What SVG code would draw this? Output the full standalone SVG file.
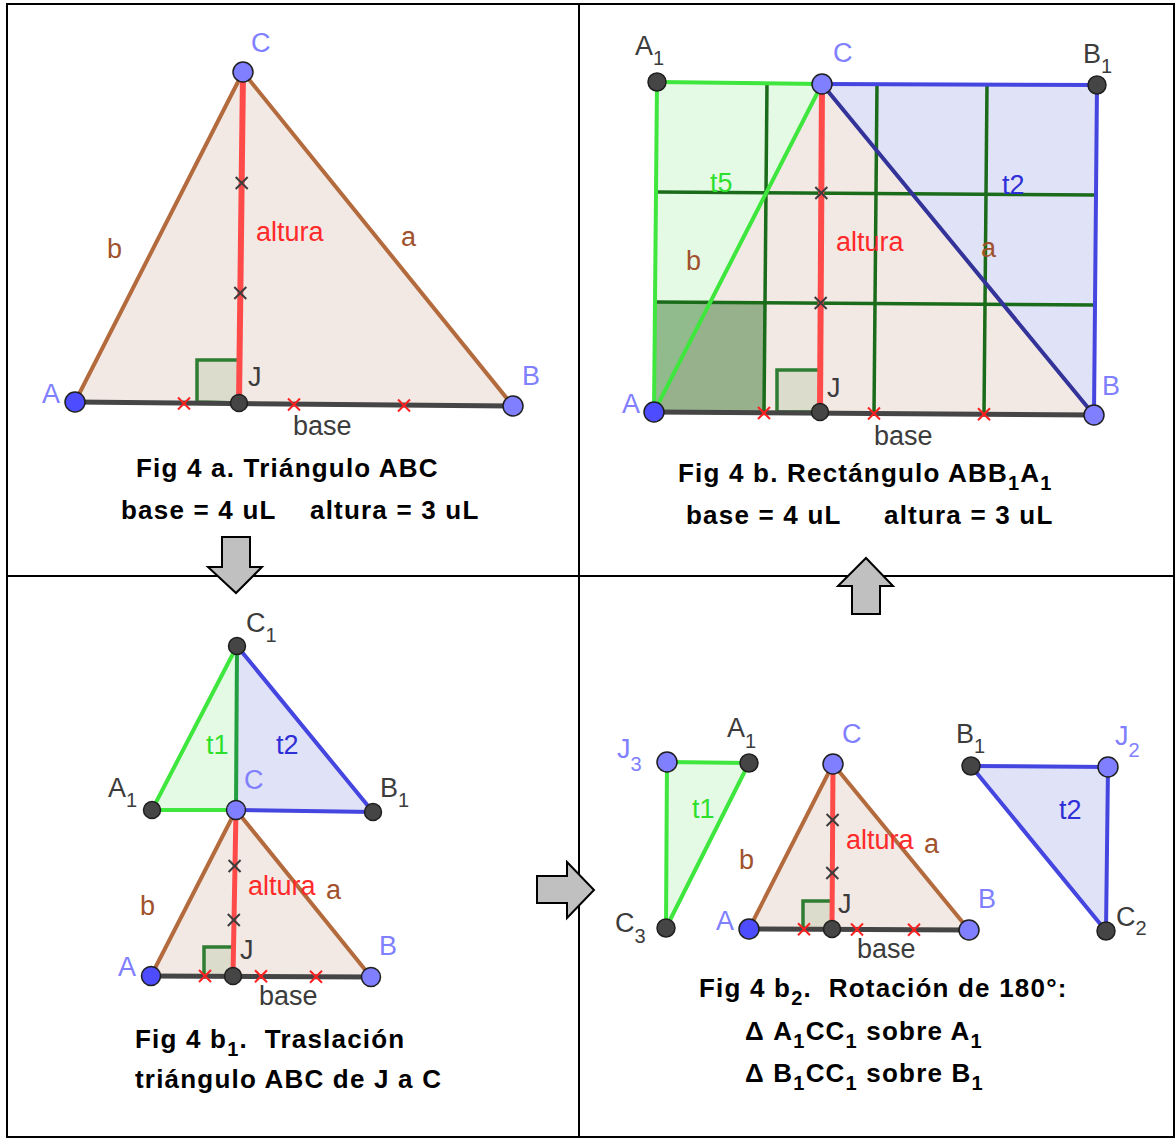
<svg xmlns="http://www.w3.org/2000/svg" xmlns:xlink="http://www.w3.org/1999/xlink" width="1176" height="1139" viewBox="0 0 1176 1139">
<defs>
<style>
.lb{font-family:"Liberation Sans",Arial,sans-serif;font-size:27px}
.sb{font-size:20px}
.cap{font-family:"Liberation Sans",Arial,sans-serif;font-size:26px;font-weight:bold;fill:#000;letter-spacing:1.2px}
.cs{font-size:20px}
.cb{fill:#8080ff}.ck{fill:#3c3c3c}.cbr{fill:#a0522d}.cr{fill:#ff2a2a}.cg{fill:#2ee02e}.cn{fill:#2f2fd8}
.beige{fill:#f2e9e4;stroke:none}
.lgreen{fill:#e5fae5;stroke:none}
.lblue{fill:#e0e2f7;stroke:none}
.brown{stroke:#b36b3e;stroke-width:4;fill:none;stroke-linecap:round}
.grn{stroke:#3ee63e;stroke-width:4;fill:none;stroke-linecap:round}
.dgrn{stroke:#1a6b1a;stroke-width:3.5;fill:none}
.blu{stroke:#4545e0;stroke-width:4;fill:none;stroke-linecap:round}
.navy{stroke:#333399;stroke-width:4;fill:none;stroke-linecap:round}
.base{stroke:#454545;stroke-width:5;fill:none}
.alt{stroke:#ff4a4a;stroke-width:6;fill:none}
.ra{fill:#dcdccc;stroke:#2e7d32;stroke-width:3.5}
.xr{stroke:#ff2020;stroke-width:2;fill:none}
.xk{stroke:#3c3c3c;stroke-width:2;fill:none}
.pA{fill:#4d4dff;stroke:#1f1f1f;stroke-width:1.5}
.pB{fill:#7f7fff;stroke:#1f1f1f;stroke-width:1.5}
.pK{fill:#454545;stroke:#1f1f1f;stroke-width:1.5}
.frame{stroke:#000;stroke-width:2;fill:none}
.arrow{fill:#c0c0c0;stroke:#000;stroke-width:2}
</style>
<path id="xm" d="M-6,-6 L6,6 M-6,6 L6,-6"/>
</defs>

<g id="frame">
<rect class="frame" x="7" y="4" width="1167" height="1133"/>
<line class="frame" x1="579" y1="4" x2="579" y2="1137"/>
<line class="frame" x1="7" y1="576" x2="1174" y2="576"/>
</g>

<g id="connectors">
<polygon class="arrow" points="222,537 250,537 250,567 262,567 236,593 208,567 222,567"/>
<polygon class="arrow" points="852,614 880,614 880,586 893,586 866,558 838,586 852,586"/>
<polygon class="arrow" points="537,876 567,876 567,862 594,890 567,918 567,903 537,903"/>
</g>

<g id="fig4a">
<polygon class="beige" points="75,402 513,406 243,72"/>
<line class="brown" x1="75" y1="402" x2="243" y2="72"/>
<line class="brown" x1="243" y1="72" x2="513" y2="406"/>
<polygon class="ra" points="197,402 197,360 239,360 239,403"/>
<line class="base" x1="75" y1="402" x2="513" y2="406"/>
<line class="alt" x1="243" y1="72" x2="239" y2="403"/>
<use xlink:href="#xm" class="xk" x="241.7" y="183"/>
<use xlink:href="#xm" class="xk" x="240.3" y="293"/>
<use xlink:href="#xm" class="xr" x="184" y="403.5"/>
<use xlink:href="#xm" class="xr" x="294" y="404.5"/>
<use xlink:href="#xm" class="xr" x="404" y="405.5"/>
<circle class="pA" cx="75" cy="402" r="10"/>
<circle class="pB" cx="513" cy="406" r="10"/>
<circle class="pB" cx="243" cy="72" r="10"/>
<circle class="pK" cx="239" cy="403" r="8.5"/>
<text class="lb cb" x="251" y="52">C</text>
<text class="lb cbr" x="107" y="258">b</text>
<text class="lb cr" x="256" y="241">altura</text>
<text class="lb cbr" x="401" y="246">a</text>
<text class="lb cb" x="42" y="403">A</text>
<text class="lb cb" x="522" y="385">B</text>
<text class="lb ck" x="248" y="386">J</text>
<text class="lb ck" x="293" y="435">base</text>
<text class="cap" x="136" y="477">Fig 4 a. Triángulo ABC</text>
<text class="cap" x="121" y="519">base = 4 uL</text>
<text class="cap" x="310" y="519">altura = 3 uL</text>
</g>

<g id="fig4b">
<polygon class="lgreen" points="657,82 822,84 654,412"/>
<polygon class="beige" points="654,412 822,84 1094,415"/>
<polygon class="lblue" points="822,84 1097,85 1094,415"/>
<polygon points="654,412 764,413 765,303 655,302" fill="#3d7a35" fill-opacity="0.5"/>
<line class="dgrn" x1="767" y1="82.7" x2="764" y2="412.7"/>
<line class="dgrn" x1="877" y1="83.5" x2="874" y2="413.5"/>
<line class="dgrn" x1="987" y1="84.3" x2="984" y2="414.3"/>
<line class="dgrn" x1="656" y1="192" x2="1096" y2="195"/>
<line class="dgrn" x1="655" y1="302" x2="1095" y2="305"/>
<line class="grn" x1="657" y1="82" x2="822" y2="84"/>
<line class="grn" x1="657" y1="82" x2="654" y2="412"/>
<line class="grn" x1="822" y1="84" x2="654" y2="412"/>
<line class="blu" x1="822" y1="84" x2="1097" y2="85"/>
<line class="blu" x1="1097" y1="85" x2="1094" y2="415"/>
<line class="navy" x1="822" y1="84" x2="1094" y2="415"/>
<polygon class="ra" points="777,412 777,370 820,370 820,412"/>
<line class="base" x1="654" y1="412" x2="1094" y2="415"/>
<line class="alt" x1="822" y1="84" x2="820" y2="412"/>
<use xlink:href="#xm" class="xk" x="821.3" y="193"/>
<use xlink:href="#xm" class="xk" x="820.7" y="303"/>
<use xlink:href="#xm" class="xr" x="764" y="413"/>
<use xlink:href="#xm" class="xr" x="874" y="413.5"/>
<use xlink:href="#xm" class="xr" x="984" y="414.3"/>
<circle class="pK" cx="657" cy="82" r="9"/>
<circle class="pB" cx="822" cy="84" r="10"/>
<circle class="pK" cx="1097" cy="85" r="9"/>
<circle class="pA" cx="654" cy="412" r="10"/>
<circle class="pB" cx="1094" cy="415" r="10"/>
<circle class="pK" cx="820" cy="412" r="8.5"/>
<text class="lb ck" x="635" y="55">A<tspan class="sb" dy="10">1</tspan></text>
<text class="lb cb" x="833" y="62">C</text>
<text class="lb ck" x="1083" y="63">B<tspan class="sb" dy="10">1</tspan></text>
<text class="lb cg" x="710" y="192">t5</text>
<text class="lb cn" x="1002" y="194">t2</text>
<text class="lb cbr" x="686" y="270">b</text>
<text class="lb cr" x="836" y="251">altura</text>
<text class="lb cbr" x="981" y="257">a</text>
<text class="lb cb" x="622" y="413">A</text>
<text class="lb cb" x="1102" y="395">B</text>
<text class="lb ck" x="827" y="397">J</text>
<text class="lb ck" x="874" y="445">base</text>
<text class="cap" x="678" y="482">Fig 4 b. Rectángulo ABB<tspan class="cs" dy="8">1</tspan><tspan dy="-8">A</tspan><tspan class="cs" dy="8">1</tspan></text>
<text class="cap" x="686" y="524">base = 4 uL</text>
<text class="cap" x="884" y="524">altura = 3 uL</text>
</g>

<g id="fig4b1">
<polygon class="lgreen" points="152,810 237,646 236,810"/>
<polygon class="lblue" points="237,646 373,812 236,810"/>
<polygon class="beige" points="151,976 236,810 371,977"/>
<line class="grn" x1="152" y1="810" x2="237" y2="646"/>
<line class="grn" x1="152" y1="810" x2="236" y2="810"/>
<line x1="237" y1="646" x2="236" y2="810" stroke="#22a040" stroke-width="4"/>
<line class="blu" x1="237" y1="646" x2="373" y2="812"/>
<line class="blu" x1="236" y1="810" x2="373" y2="812"/>
<line class="brown" x1="151" y1="976" x2="236" y2="810"/>
<line class="brown" x1="236" y1="810" x2="371" y2="977"/>
<polygon class="ra" points="204,976 204,947 233,947 233,976"/>
<line class="base" x1="151" y1="976" x2="371" y2="977"/>
<line class="alt" x1="236" y1="810" x2="233" y2="976" style="stroke-width:5"/>
<use xlink:href="#xm" class="xk" x="234.6" y="866"/>
<use xlink:href="#xm" class="xk" x="233.8" y="920"/>
<use xlink:href="#xm" class="xr" x="205" y="976"/>
<use xlink:href="#xm" class="xr" x="261" y="976.3"/>
<use xlink:href="#xm" class="xr" x="316" y="976.7"/>
<circle class="pK" cx="237" cy="646" r="8.5"/>
<circle class="pK" cx="152" cy="810" r="8.5"/>
<circle class="pK" cx="373" cy="812" r="8.5"/>
<circle class="pB" cx="236" cy="810" r="9.5"/>
<circle class="pA" cx="151" cy="976" r="9.5"/>
<circle class="pK" cx="233" cy="976" r="8.5"/>
<circle class="pB" cx="371" cy="977" r="9.5"/>
<text class="lb ck" x="246" y="632">C<tspan class="sb" dy="10">1</tspan></text>
<text class="lb cg" x="206" y="754">t1</text>
<text class="lb cn" x="276" y="754">t2</text>
<text class="lb cb" x="244" y="789">C</text>
<text class="lb ck" x="108" y="797">A<tspan class="sb" dy="10">1</tspan></text>
<text class="lb ck" x="380" y="797">B<tspan class="sb" dy="10">1</tspan></text>
<text class="lb cr" x="248" y="895">altura</text>
<text class="lb cbr" x="326" y="899">a</text>
<text class="lb cbr" x="140" y="915">b</text>
<text class="lb cb" x="118" y="976">A</text>
<text class="lb cb" x="379" y="955">B</text>
<text class="lb ck" x="240" y="959">J</text>
<text class="lb ck" x="259" y="1005">base</text>
<text class="cap" x="135" y="1048" xml:space="preserve">Fig 4 b<tspan class="cs" dy="8">1</tspan><tspan dy="-8">.  Traslación</tspan></text>
<text class="cap" x="135" y="1088">triángulo ABC de J a C</text>
</g>

<g id="fig4b2">
<polygon class="lgreen" points="667,762 749,763 666,928"/>
<line class="grn" x1="667" y1="762" x2="749" y2="763"/>
<line class="grn" x1="749" y1="763" x2="666" y2="928"/>
<line class="grn" x1="667" y1="762" x2="666" y2="928"/>
<polygon class="beige" points="749,929 833,764 969,930"/>
<line class="brown" x1="749" y1="929" x2="833" y2="764"/>
<line class="brown" x1="833" y1="764" x2="969" y2="930"/>
<polygon class="ra" points="803,929 803,901 832,901 832,929"/>
<line class="base" x1="749" y1="929" x2="969" y2="930"/>
<line class="alt" x1="833" y1="764" x2="832" y2="929" style="stroke-width:5"/>
<use xlink:href="#xm" class="xk" x="832.6" y="820"/>
<use xlink:href="#xm" class="xk" x="832.3" y="873"/>
<use xlink:href="#xm" class="xr" x="804" y="929.3"/>
<use xlink:href="#xm" class="xr" x="857" y="929.5"/>
<use xlink:href="#xm" class="xr" x="914" y="929.8"/>
<polygon class="lblue" points="971,766 1108,767 1106,931"/>
<line class="blu" x1="971" y1="766" x2="1108" y2="767"/>
<line class="blu" x1="1108" y1="767" x2="1106" y2="931"/>
<line class="blu" x1="971" y1="766" x2="1106" y2="931"/>
<circle class="pB" cx="667" cy="762" r="10"/>
<circle class="pK" cx="749" cy="763" r="9"/>
<circle class="pK" cx="666" cy="928" r="9"/>
<circle class="pB" cx="833" cy="764" r="10"/>
<circle class="pA" cx="749" cy="929" r="10"/>
<circle class="pK" cx="832" cy="929" r="8.5"/>
<circle class="pB" cx="969" cy="930" r="10"/>
<circle class="pK" cx="971" cy="766" r="9"/>
<circle class="pB" cx="1108" cy="767" r="10"/>
<circle class="pK" cx="1106" cy="931" r="9"/>
<text class="lb cb" x="617" y="758">J<tspan class="sb" dy="13">3</tspan></text>
<text class="lb ck" x="727" y="737">A<tspan class="sb" dy="11">1</tspan></text>
<text class="lb cb" x="842" y="743">C</text>
<text class="lb cg" x="692" y="818">t1</text>
<text class="lb cbr" x="739" y="869">b</text>
<text class="lb ck" x="615" y="932">C<tspan class="sb" dy="11">3</tspan></text>
<text class="lb cb" x="716" y="930">A</text>
<text class="lb ck" x="838" y="913">J</text>
<text class="lb cr" x="846" y="849">altura</text>
<text class="lb cbr" x="924" y="853">a</text>
<text class="lb cb" x="978" y="908">B</text>
<text class="lb ck" x="857" y="958">base</text>
<text class="lb ck" x="956" y="743">B<tspan class="sb" dy="10">1</tspan></text>
<text class="lb cb" x="1115" y="745">J<tspan class="sb" dy="12">2</tspan></text>
<text class="lb cn" x="1059" y="819">t2</text>
<text class="lb ck" x="1116" y="926">C<tspan class="sb" dy="9">2</tspan></text>
<text class="cap" x="699" y="997" xml:space="preserve">Fig 4 b<tspan class="cs" dy="8">2</tspan><tspan dy="-8">.  Rotación de 180°:</tspan></text>
<text class="cap" x="745" y="1040">Δ A<tspan class="cs" dy="8">1</tspan><tspan dy="-8">CC</tspan><tspan class="cs" dy="8">1</tspan><tspan dy="-8"> sobre A</tspan><tspan class="cs" dy="8">1</tspan></text>
<text class="cap" x="745" y="1082">Δ B<tspan class="cs" dy="8">1</tspan><tspan dy="-8">CC</tspan><tspan class="cs" dy="8">1</tspan><tspan dy="-8"> sobre B</tspan><tspan class="cs" dy="8">1</tspan></text>
</g>
</svg>
